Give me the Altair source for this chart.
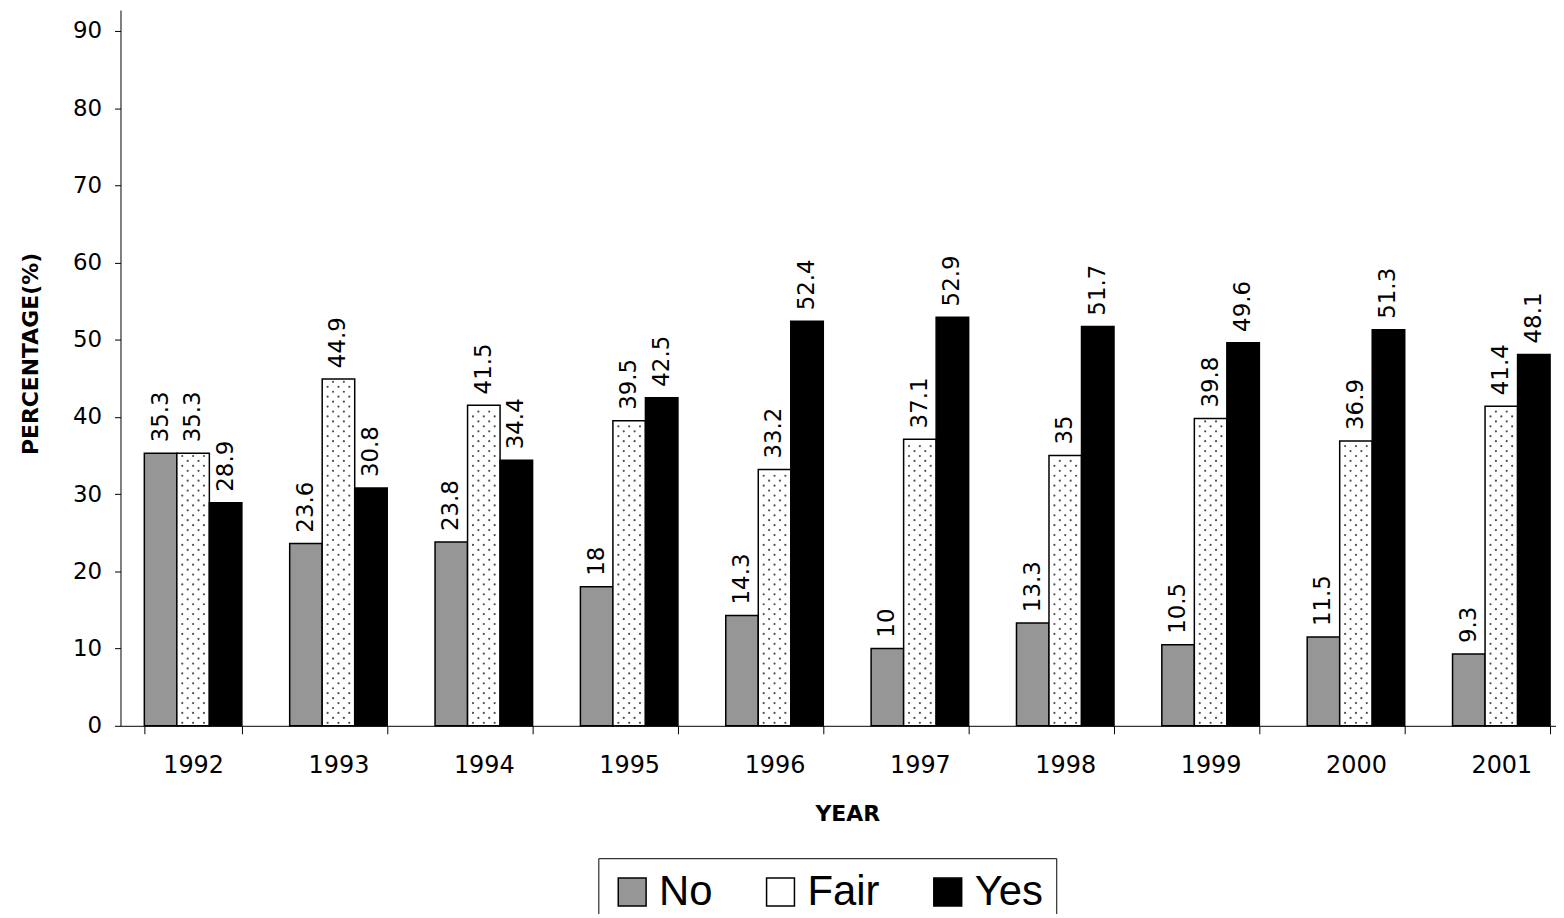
import altair as alt
import pandas as pd

years = ["1992", "1993", "1994", "1995", "1996", "1997", "1998", "1999", "2000", "2001"]
groups = ["No", "Fair", "Yes"]
no_vals = [35.3, 23.6, 23.8, 18, 14.3, 10, 13.3, 10.5, 11.5, 9.3]
fair_vals = [35.3, 44.9, 41.5, 39.5, 33.2, 37.1, 35, 39.8, 36.9, 41.4]
yes_vals = [28.9, 30.8, 34.4, 42.5, 52.4, 52.9, 51.7, 49.6, 51.3, 48.1]
colors = ["#969696", "#ffffff", "#000000"]
y_ticks = [0, 10, 20, 30, 40, 50, 60, 70, 80, 90]

rows = []
for i, yr in enumerate(years):
    for g, vals in zip(groups, [no_vals, fair_vals, yes_vals]):
        rows.append({"year": yr, "group": g, "value": vals[i], "label": f"{vals[i]:g}"})
df = pd.DataFrame(rows)

x_enc = alt.X(
    "year:N",
    sort=years,
    scale=alt.Scale(range=[0, 1460], paddingInner=0.329, paddingOuter=0.164),
    axis=alt.Axis(
        title="YEAR", labelAngle=0, tickBand="extent", labelFontSize=24,
        labelPadding=20, tickSize=8, titleFontSize=22, titleFontWeight="bold",
        titlePadding=26,
    ),
)
y_axis = alt.Axis(
    title="PERCENTAGE(%)", values=y_ticks, labelFontSize=23, labelPadding=13,
    tickSize=6, titleFontSize=22, titleFontWeight="bold", titlePadding=30,
    titleY=345,
)
y_scale = alt.Scale(domain=[0, 92.7], nice=False, zero=True)

base = alt.Chart(df)

bars = base.mark_bar(stroke="black", strokeWidth=1.5).encode(
    x=x_enc,
    xOffset=alt.XOffset("group:N", sort=groups, scale=alt.Scale(domain=groups)),
    y=alt.Y("value:Q", scale=y_scale, axis=y_axis),
    color=alt.Color(
        "group:N",
        scale=alt.Scale(domain=groups, range=colors),
        legend=alt.Legend(
            title=None, orient="none", legendX=480, legendY=852,
            direction="horizontal", symbolType="square", symbolSize=784,
            symbolStrokeColor="black", symbolStrokeWidth=1.5, symbolOpacity=1,
            labelFont="Liberation Sans", labelFontSize=42, labelColor="black",
            labelOffset=6, columnPadding=47, padding=13,
            strokeColor="black", fillColor="white",
        ),
    ),
)

dots = (
    base.transform_filter("datum.group == 'Fair'")
    .transform_calculate(rowseq="sequence(0, floor(datum.value / 0.64))")
    .transform_flatten(["rowseq"], as_=["r"])
    .transform_calculate(colseq="sequence(0, 3 - datum.r % 2)")
    .transform_flatten(["colseq"], as_=["c"])
    .transform_calculate(
        ydot="(datum.r + 0.6) * 0.64",
        off="1 + (datum.c + 0.5 + 0.5 * (datum.r % 2)) / 3",
    )
    .transform_filter("datum.ydot < datum.value - 0.3")
    .mark_circle(size=5, color="#505050", opacity=1)
    .encode(
        x=x_enc,
        xOffset=alt.XOffset("off:Q", scale=alt.Scale(domain=[0, 3], nice=False, zero=False)),
        y=alt.Y("ydot:Q", scale=y_scale, axis=y_axis),
    )
)

labels = base.mark_text(
    angle=270, align="left", baseline="middle", dx=11,
    font="DejaVu Sans", fontSize=23, color="black",
).encode(
    x=x_enc,
    xOffset=alt.XOffset("group:N", sort=groups, scale=alt.Scale(domain=groups)),
    y=alt.Y("value:Q", scale=y_scale, axis=y_axis),
    text="label:N",
)

chart = (
    alt.layer(bars, dots, labels)
    .resolve_scale(xOffset="independent")
    .properties(
        width=1442, height=719,
        autosize=alt.AutoSizeParams(type="none"),
        padding={"left": 113, "top": 0, "right": 0, "bottom": 187},
    )
    .configure_view(stroke=None)
    .configure_legend(strokeWidth=1)
    .configure_axis(
        grid=False, domainColor="black", tickColor="black", labelColor="black",
        titleColor="black", labelFont="DejaVu Sans", titleFont="DejaVu Sans",
        domainWidth=1, tickWidth=1,
    )
)

chart.save("out.html", embed_options={"renderer": "svg", "actions": False})
